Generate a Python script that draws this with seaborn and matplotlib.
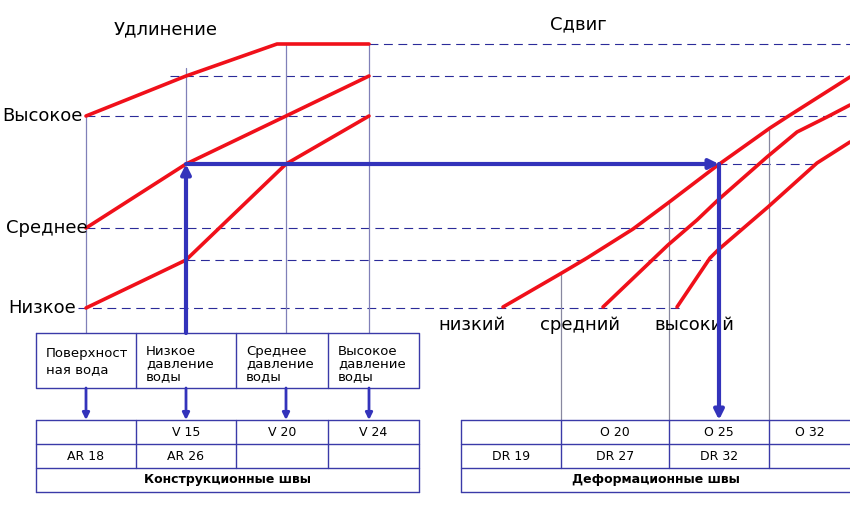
"""
Joint selection chart: elongation / shear vs water pressure
"""
import matplotlib
matplotlib.use("Agg")
import pandas as pd
import matplotlib.pyplot as plt
import seaborn as sns

# Data (diagram units: x to the right, y downwards, same scale as the sheet)
# left panel - elongation levels against water pressure columns
col_x = [86, 186, 286, 369]
col_names = ["Поверхност\nная вода", "Низкое\nдавление\nводы",
             "Среднее\nдавление\nводы", "Высокое\nдавление\nводы"]
level_names = ["Высокое", "Среднее", "Низкое"]
level_y = [116, 228, 308]

elong_top_x = [86, 186, 277, 369]
elong_top_y = [116, 76, 44, 44]
elong_mid_x = [86, 186, 286, 369]
elong_mid_y = [228, 164, 116, 76]
elong_low_x = [86, 186, 286, 369]
elong_low_y = [308, 260, 164, 116]

# right panel - shear curves
shear_names = ["низкий", "средний", "высокий"]
shear_label_x = [472, 580, 694]
shear_low_x = [503, 560, 587, 633, 668, 718, 770, 787, 850]
shear_low_y = [307, 274, 258, 229, 203, 165, 128, 117, 77]
shear_mid_x = [603, 668, 697, 718, 767, 797, 827, 850]
shear_mid_y = [307, 245, 220, 200, 157, 132, 117, 105]
shear_high_x = [677, 710, 718, 768, 817, 850]
shear_high_y = [307, 258, 250, 207, 163, 142]
shear_col_x = [561, 669, 769]
shear_col_top = [274, 203, 130]

# dashed guides
guide_y = [44, 76, 116, 164, 228, 260, 308]
guide_x0 = [369, 170, 86, 718, 86, 186, 78]
guide_x1 = [850, 850, 850, 815, 740, 712, 680]

# worked example path
example_x = [186, 186, 719, 719]
example_y = [333, 164, 164, 420]

# tables
left_edges = [36, 136, 236, 328, 419]
right_edges = [461, 561, 669, 769, 852]
table_rows = [420, 444, 468, 492]
box_top, box_bottom = 333, 388
left_row1 = ["", "V 15", "V 20", "V 24"]
left_row2 = ["AR 18", "AR 26", "", ""]
right_row1 = ["", "O 20", "O 25", "O 32"]
right_row2 = ["DR 19", "DR 27", "DR 32", ""]
left_title = "Конструкционные швы"
right_title = "Деформационные швы"

RED = "#f0101a"
BLUE = "#3333bb"
DASH = "#2b2b99"
THIN = "#8080b8"
GRID = "#3a3aa8"

sns.set_style("white")
plt.rcParams["font.family"] = ["DejaVu Sans"]
plt.rcParams["text.color"] = "black"

fig = plt.figure(figsize=(8.5, 5.08), dpi=100)
ax = fig.add_axes([0, 0, 1, 1])

# dashed guide lines
for y, x0, x1 in zip(guide_y, guide_x0, guide_x1):
    ax.plot([x0, x1], [y, y], color=DASH, lw=0.8, ls=(0, (8, 5)), zorder=1)

# thin verticals
ax.plot([col_x[0], col_x[0]], [level_y[0], box_top], color=THIN, lw=0.9, zorder=1)
ax.plot([col_x[1], col_x[1]], [68, 164], color=THIN, lw=0.9, zorder=1)
for x in col_x[2:]:
    ax.plot([x, x], [44, box_top], color=THIN, lw=0.9, zorder=1)
for x, top in zip(shear_col_x, shear_col_top):
    ax.plot([x, x], [top, table_rows[0]], color="#8888a0", lw=0.9, zorder=1)

# red curves through seaborn
frames = []
for name, xs, ys in [("e_top", elong_top_x, elong_top_y),
                     ("e_mid", elong_mid_x, elong_mid_y),
                     ("e_low", elong_low_x, elong_low_y),
                     ("s_low", shear_low_x, shear_low_y),
                     ("s_mid", shear_mid_x, shear_mid_y),
                     ("s_high", shear_high_x, shear_high_y)]:
    frames.append(pd.DataFrame({"x": xs, "y": ys, "curve": name}))
curves = pd.concat(frames, ignore_index=True)
sns.lineplot(data=curves, x="x", y="y", units="curve", estimator=None,
             sort=False, color=RED, lw=2.6, legend=False, ax=ax, zorder=3)

# worked example arrows
arrow_kw = dict(arrowstyle="-|>", mutation_scale=14, lw=3, color=BLUE,
                shrinkA=0, shrinkB=0)
for i in range(3):
    ax.annotate("", xy=(example_x[i + 1], example_y[i + 1]),
                xytext=(example_x[i], example_y[i]),
                arrowprops=arrow_kw, zorder=4)

# titles and labels
ax.text(166, 29, "Удлинение", ha="center", va="center", fontsize=13)
ax.text(578, 24, "Сдвиг", ha="center", va="center", fontsize=13)
for name, y, xr in zip(level_names, level_y, [83, 88, 76]):
    ax.text(xr, y, name, ha="right", va="center", fontsize=13)
for name, x in zip(shear_names, shear_label_x):
    ax.text(x, 325, name, ha="center", va="center", fontsize=13)

# pressure boxes
ax.plot([left_edges[0], left_edges[-1], left_edges[-1], left_edges[0], left_edges[0]],
        [box_top, box_top, box_bottom, box_bottom, box_top], color=GRID, lw=1)
for x in left_edges[1:-1]:
    ax.plot([x, x], [box_top, box_bottom], color=GRID, lw=1)
for i, name in enumerate(col_names):
    spacing = 1.35 if i == 0 else 0.95
    ax.text(left_edges[i] + 10, 361.5 if i == 0 else 364, name, ha="left",
            va="center", fontsize=9.5, linespacing=spacing)
down_kw = dict(arrowstyle="-|>", mutation_scale=10, lw=2, color=BLUE,
               shrinkA=0, shrinkB=0)
for x in col_x:
    ax.annotate("", xy=(x, table_rows[0]), xytext=(x, box_bottom), arrowprops=down_kw)


def draw_table(edges, row1, row2, title):
    x0, x1 = edges[0], edges[-1]
    for y in table_rows:
        ax.plot([x0, x1], [y, y], color=GRID, lw=1)
    ax.plot([x0, x0], [table_rows[0], table_rows[-1]], color=GRID, lw=1)
    ax.plot([x1, x1], [table_rows[0], table_rows[-1]], color=GRID, lw=1)
    for x in edges[1:-1]:
        ax.plot([x, x], [table_rows[0], table_rows[2]], color=GRID, lw=1)
    for i in range(4):
        cx = (edges[i] + min(edges[i + 1], 850)) / 2
        ax.text(cx, (table_rows[0] + table_rows[1]) / 2, row1[i],
                ha="center", va="center", fontsize=9)
        ax.text(cx, (table_rows[1] + table_rows[2]) / 2, row2[i],
                ha="center", va="center", fontsize=9)
    ax.text((x0 + min(x1, 850)) / 2, (table_rows[2] + table_rows[3]) / 2, title,
            ha="center", va="center", fontsize=9, fontweight="bold")


draw_table(left_edges, left_row1, left_row2, left_title)
draw_table(right_edges, right_row1, right_row2, right_title)

ax.set_xlim(0, 850)
ax.set_ylim(508, 0)
ax.axis("off")
fig.savefig("out.png", dpi=100)
